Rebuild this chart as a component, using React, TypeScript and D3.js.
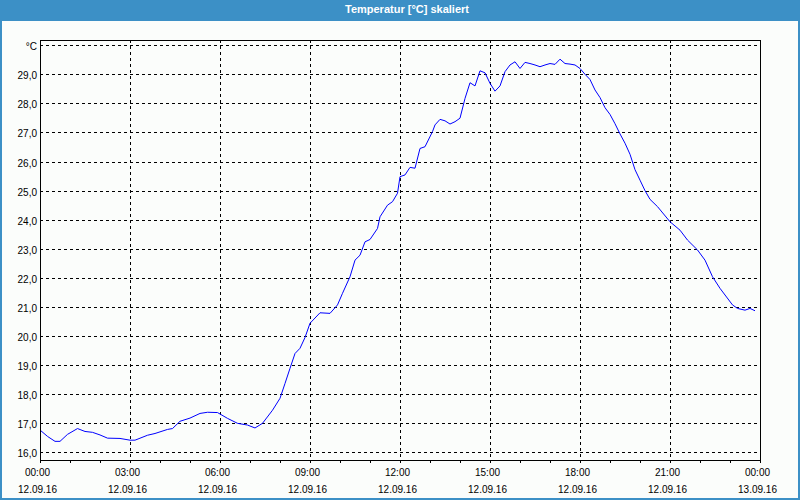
import React from "react";
import * as d3 from "d3";

const title = "Temperatur [°C] skaliert";

// minutes after 12.09.16 00:00
const minutes = [
  0, 15, 30, 40, 55, 75, 90, 105, 120, 135, 160, 180, 190, 215, 230, 255, 265, 280, 300, 320,
  335, 355, 375, 395, 415, 430, 445, 465, 480, 490, 500, 510, 520, 530, 540, 560, 580, 595,
  605, 620, 630, 640, 650, 660, 675, 680, 695, 705, 715, 720, 730, 740, 750, 760, 770, 785,
  790, 800, 810, 820, 830, 840, 850, 860, 870, 880, 890, 900, 910, 920, 930, 940, 950, 960,
  970, 980, 990, 1000, 1010, 1020, 1030, 1040, 1050, 1060, 1070, 1080, 1090, 1100, 1110,
  1120, 1130, 1140, 1150, 1160, 1170, 1180, 1190, 1200, 1210, 1220, 1235, 1260, 1280, 1295,
  1315, 1330, 1345, 1360, 1385, 1395, 1410, 1420, 1430,
];
const temps = [
  16.77, 16.55, 16.38, 16.38, 16.62, 16.82, 16.72, 16.69, 16.6, 16.49, 16.48, 16.42, 16.42,
  16.59, 16.65, 16.79, 16.82, 17.07, 17.18, 17.34, 17.38, 17.37, 17.17, 17.0, 16.94, 16.84,
  17.0, 17.45, 17.86, 18.37, 18.89, 19.4, 19.58, 19.95, 20.44, 20.8, 20.78, 21.07, 21.47,
  22.04, 22.61, 22.78, 23.24, 23.32, 23.7, 24.1, 24.5, 24.62, 24.91, 25.48, 25.54, 25.8,
  25.77, 26.45, 26.51, 27.03, 27.26, 27.45, 27.4, 27.29, 27.37, 27.49, 28.17, 28.71, 28.6,
  29.12, 29.05, 28.69, 28.42, 28.6, 29.09, 29.32, 29.43, 29.2, 29.41, 29.37, 29.32, 29.26,
  29.32, 29.37, 29.34, 29.52, 29.37, 29.35, 29.32, 29.2, 29.0, 28.82, 28.46, 28.2, 27.85,
  27.62, 27.3, 26.95, 26.63, 26.25, 25.72, 25.36, 25.0, 24.7, 24.45, 23.93, 23.64, 23.3,
  22.96, 22.61, 22.04, 21.64, 21.07, 20.95, 20.89, 20.95, 20.87,
];

const yTicks = [16, 17, 18, 19, 20, 21, 22, 23, 24, 25, 26, 27, 28, 29, 30];
const yTickLabels = ["16,0", "17,0", "18,0", "19,0", "20,0", "21,0", "22,0", "23,0", "24,0", "25,0", "26,0", "27,0", "28,0", "29,0", "°C"];
const xTicks = [0, 180, 360, 540, 720, 900, 1080, 1260, 1440];
const xTimeLabels = ["00:00", "03:00", "06:00", "09:00", "12:00", "15:00", "18:00", "21:00", "00:00"];
const xDateLabels = ["12.09.16", "12.09.16", "12.09.16", "12.09.16", "12.09.16", "12.09.16", "12.09.16", "12.09.16", "13.09.16"];
const hourTicks = d3.range(0, 1441, 60);

const W = 800;
const H = 500;
const L = 40, R = 760, T = 40, B = 460;
const blue = "#3c90c6";
const font = "'Liberation Sans', Arial, sans-serif";

export default function App() {
  const x = d3.scaleLinear().domain([0, 1440]).range([L, R]);
  const y = d3.scaleLinear().domain([16, 30]).range([452.4, 45.2]);
  const crisp = (v: number) => Math.round(v) + 0.5;
  const line = d3
    .line<number>()
    .x((_, i) => x(minutes[i]))
    .y((d) => y(d));

  return (
    <svg
      width={W}
      height={H}
      style={{ position: "fixed", left: 0, top: 0, display: "block" }}
      fontFamily={font}
    >
      <rect x={0} y={0} width={W} height={H} fill={blue} />
      <rect x={2} y={21} width={W - 4} height={H - 23} fill="#fbfdfb" />
      <text x={407} y={13} textAnchor="middle" fill="#ffffff" fontWeight="bold" fontSize={11}>
        {title}
      </text>

      {/* horizontal grid */}
      {yTicks.map((t) => (
        <line
          key={"h" + t}
          x1={L}
          x2={757}
          y1={crisp(y(t))}
          y2={crisp(y(t))}
          stroke="#000"
          strokeDasharray="3,3"
          shapeRendering="crispEdges"
        />
      ))}
      {/* vertical grid */}
      {xTicks.slice(1, -1).map((t) => (
        <line
          key={"v" + t}
          x1={crisp(x(t))}
          x2={crisp(x(t))}
          y1={T}
          y2={B}
          stroke="#000"
          strokeDasharray="3,3"
          shapeRendering="crispEdges"
        />
      ))}

      <path d={line(temps) || ""} fill="none" stroke="#0000ff" strokeWidth={1} />

      {/* frame */}
      <rect x={L + 0.5} y={T + 0.5} width={R - L} height={B - T} fill="none" stroke="#000" shapeRendering="crispEdges" />
      {hourTicks.map((t) => (
        <line key={"k" + t} x1={crisp(x(t))} x2={crisp(x(t))} y1={B} y2={B + 3} stroke="#000" shapeRendering="crispEdges" />
      ))}

      {/* y labels */}
      {yTicks.map((t, i) => (
        <text key={"yl" + t} x={37} y={crisp(y(t)) + 4.5} textAnchor="end" fontSize={10} fill="#000">
          {yTickLabels[i]}
        </text>
      ))}
      {/* x labels */}
      {xTicks.map((t, i) => (
        <g key={"xl" + t}>
          <text x={x(t) - 2.5} y={476} textAnchor="middle" fontSize={10} fill="#000">
            {xTimeLabels[i]}
          </text>
          <text x={x(t) - 2.5} y={492.5} textAnchor="middle" fontSize={10} fill="#000">
            {xDateLabels[i]}
          </text>
        </g>
      ))}
    </svg>
  );
}
